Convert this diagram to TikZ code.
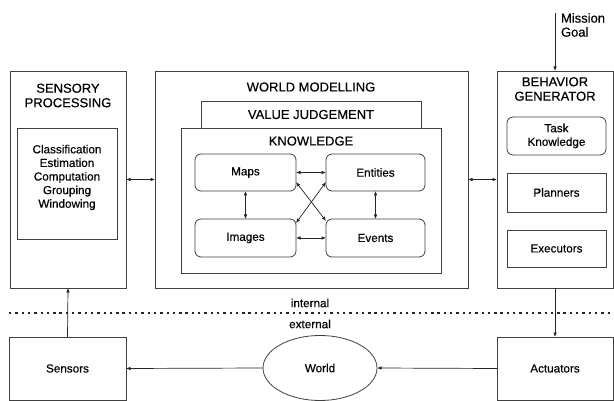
\documentclass[tikz,border=0pt]{standalone}
\usepackage{fontspec}
\setmainfont{Liberation Sans}[FakeBold=0.35]
\usetikzlibrary{arrows.meta,shadows,shapes.geometric}
\begin{document}
\begin{tikzpicture}[x=1pt,y=-1pt,
  every node/.style={inner sep=0pt,outer sep=0pt},
  box/.style={draw=black!75,line width=0.8pt,fill=white,anchor=north west,
    drop shadow={shadow xshift=1.2pt,shadow yshift=-1.2pt,fill=black!35,opacity=0.6}},
  plainbox/.style={draw=black!75,line width=0.8pt,fill=white,anchor=north west},
  rbox/.style={plainbox,rounded corners=6pt},
  title/.style={font=\fontsize{13}{14.5}\selectfont,align=center},
  lbl/.style={font=\fontsize{11.7}{13.6}\selectfont,align=center},
  arr/.style={-{Latex[length=4.5pt,width=3.6pt]},draw=black!85,line width=0.7pt},
  darr/.style={{Latex[length=4.5pt,width=3.6pt]}-{Latex[length=4.5pt,width=3.6pt]},draw=black!85,line width=0.7pt},
  sepline/.style={draw=black!85,line width=2.6pt,dash pattern=on 2.4pt off 3.9pt}
]
\useasboundingbox (0,0) rectangle (614,401);

% Sensory processing
\node[box,minimum width=116pt,minimum height=217pt] (sp) at (10,71) {};
\node[title] (sptitle) at (68,95.5) {SENSORY\\PROCESSING};
\node[plainbox,minimum width=100pt,minimum height=111pt] (spin) at (17,128) {};
\node[lbl] (sptext) at (67,177.5) {Classification\\Estimation\\Computation\\Grouping\\Windowing};

% World modelling
\node[box,minimum width=313pt,minimum height=217pt] (wm) at (155,71) {};
\node[title] (wmtitle) at (311,87) {WORLD MODELLING};
\node[plainbox,minimum width=220pt,minimum height=27pt,title] (vj) at (201,101) {VALUE JUDGEMENT};
\node[plainbox,minimum width=260pt,minimum height=145pt] (kn) at (181,128) {};
\node[title] (kntitle) at (311,141) {KNOWLEDGE};
\node[rbox,minimum width=101pt,minimum height=37pt,lbl] (maps) at (195,154) {Maps};
\node[rbox,minimum width=99pt,minimum height=37pt,lbl] (entities) at (326,154) {Entities};
\node[rbox,minimum width=101pt,minimum height=38pt,lbl] (images) at (195,219) {Images};
\node[rbox,minimum width=99pt,minimum height=38pt,lbl] (events) at (326,219) {Events};

% Behavior generator
\node[box,minimum width=116pt,minimum height=217pt] (bg) at (497,71) {};
\node[title] (bgtitle) at (555,89) {BEHAVIOR\\GENERATOR};
\node[rbox,minimum width=99pt,minimum height=38pt,lbl] (tk) at (507,117) {Task\\Knowledge};
\node[plainbox,minimum width=99pt,minimum height=39pt,lbl] (pl) at (507,173) {Planners};
\node[plainbox,minimum width=99pt,minimum height=37pt,lbl] (ex) at (507,230) {Executors};

% Mission goal
\coordinate (mg) at (555,13);
\node[lbl,align=left,anchor=west,font=\fontsize{13}{14}\selectfont] (mgtext) at (561,25) {Mission\\Goal};

% external
\node[box,minimum width=117pt,minimum height=63pt,lbl] (sensors) at (9,337) {Sensors};
\node[box,minimum width=116pt,minimum height=63pt,lbl] (act) at (497,337) {Actuators};
\node[ellipse,draw=black!75,line width=0.8pt,fill=white,minimum width=114pt,minimum height=65pt,lbl] (world) at (320,368) {World};

% separator
\coordinate (sl) at (9,313);
\coordinate (sr) at (612,313);
\draw[sepline] (sl) -- (sr);
\node[lbl] (internal) at (310,303) {internal};
\node[lbl] (external) at (310,324) {external};

% connectors
\draw[darr] (sp.east) -- (wm.west);
\draw[darr] (wm.east) -- (bg.west);
\draw[darr] (maps.east) -- (entities.west);
\draw[darr] (images.east) -- (events.west);
\draw[darr] (maps.south) -- (images.north);
\draw[darr] (entities.south) -- (events.north);
\draw[darr] ([yshift=-9.5pt]maps.east) -- ([yshift=17pt]events.west);
\draw[darr] ([yshift=15pt]images.east) -- ([yshift=-9.5pt]entities.west);
\draw[arr] (mg) -- (bg.north);
\draw[arr] (bg.south) -- (act.north);
\draw[arr] (sensors.north) -- (sp.south);
\draw[arr] (world.west) -- (sensors.east);
\draw[arr] (act.west) -- (world.east);
\end{tikzpicture}
\end{document}
